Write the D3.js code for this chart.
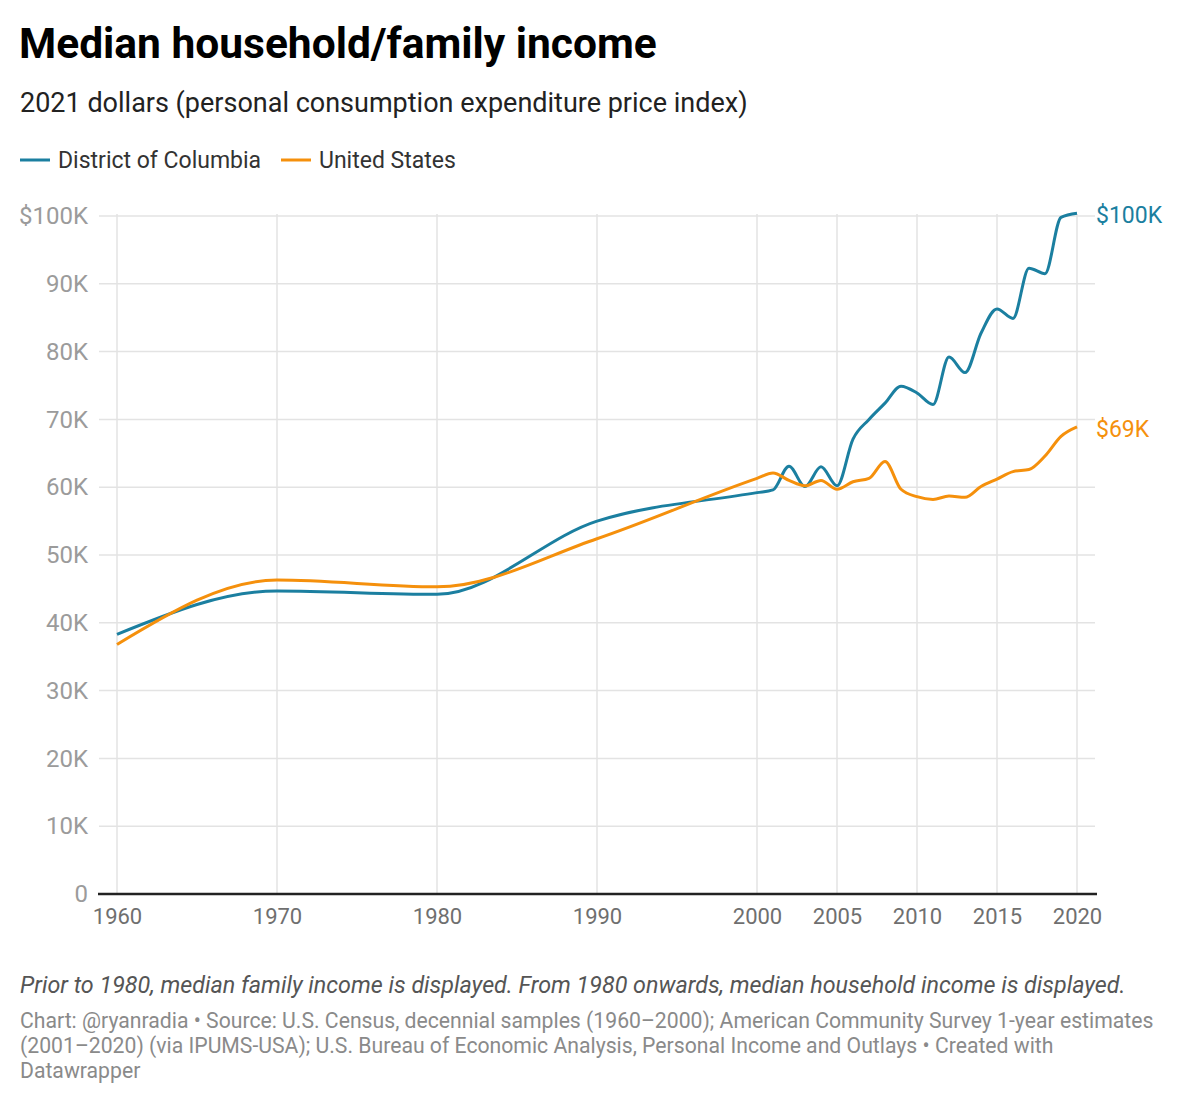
<!DOCTYPE html>
<html>
<head>
<meta charset="utf-8">
<script src="https://cdn.jsdelivr.net/npm/d3@7"></script>
<style>
  body { margin: 0; background: #fff; font-family: Roboto, "Noto Sans", sans-serif; }
  svg text { font-family: Roboto, "Noto Sans", sans-serif; }
</style>
</head>
<body>
<div id="chart"></div>
<script>
// values in thousands of 2021 dollars
var years = [1960, 1970, 1980, 1990, 2000, 2001, 2002, 2003, 2004, 2005, 2006, 2007, 2008,
             2009, 2010, 2011, 2012, 2013, 2014, 2015, 2016, 2017, 2018, 2019, 2020];
var dcIncome = [38.3, 44.7, 44.2, 55.0, 59.2, 59.6, 63.1, 60.1, 63.0, 60.2, 67.1, 70.0, 72.4,
                74.9, 73.9, 72.2, 79.2, 76.9, 82.7, 86.3, 84.9, 92.3, 91.5, 99.8, 100.4];
var usIncome = [36.8, 46.3, 45.3, 52.4, 61.3, 62.1, 61.0, 60.2, 61.0, 59.7, 60.8, 61.3, 63.8,
                59.7, 58.6, 58.2, 58.7, 58.5, 60.1, 61.2, 62.3, 62.6, 64.6, 67.5, 68.9];
var seriesNames = ["District of Columbia", "United States"];
var seriesColors = ["#1b7fa0", "#f5900c"];
var xTicks = [1960, 1970, 1980, 1990, 2000, 2005, 2010, 2015, 2020];
var yTicks = [0, 10, 20, 30, 40, 50, 60, 70, 80, 90, 100];

var w = 1200, h = 1103;

var svg = d3.select("#chart").append("svg")
  .attr("width", w)
  .attr("height", h);

var x = d3.scaleLinear().domain([1960, 2020]).range([117, 1077]);
var y = d3.scaleLinear().domain([0, 100]).range([894, 216]);

// header
svg.append("text")
  .attr("x", 19).attr("y", 58)
  .style("font-size", "42.5px").style("font-weight", "bold").attr("fill", "#000")
  .text("Median household/family income");

svg.append("text")
  .attr("x", 20).attr("y", 112)
  .style("font-size", "27px").attr("fill", "#222")
  .text("2021 dollars (personal consumption expenditure price index)");

// legend
var legendX = [20, 281];
seriesNames.forEach(function (name, i) {
  var g = svg.append("g").attr("transform", `translate(${legendX[i]},160)`);
  g.append("line")
    .attr("x1", 0).attr("x2", 30)
    .attr("stroke", seriesColors[i]).attr("stroke-width", 3);
  g.append("text")
    .attr("x", 38).attr("y", 8)
    .style("font-size", "23px").attr("fill", "#333")
    .text(name);
});

// gridlines
var grid = svg.append("g");
grid.selectAll("line.h")
  .data(yTicks.filter(d => d > 0))
  .enter().append("line")
  .attr("class", "h")
  .attr("x1", 99).attr("x2", 1095)
  .attr("y1", d => y(d)).attr("y2", d => y(d))
  .attr("stroke", "#e3e3e3").attr("stroke-width", 1.5);

grid.selectAll("line.v")
  .data(xTicks)
  .enter().append("line")
  .attr("class", "v")
  .attr("x1", d => x(d)).attr("x2", d => x(d))
  .attr("y1", 214).attr("y2", 894)
  .attr("stroke", "#e3e3e3").attr("stroke-width", 1.5);

// y axis labels
var yAxis = d3.axisLeft(y)
  .tickValues(yTicks)
  .tickSize(0)
  .tickPadding(0)
  .tickFormat(d => d === 0 ? "0" : (d === 100 ? "$" : "") + d + "K");

svg.append("g")
  .attr("transform", "translate(88,0)")
  .call(yAxis)
  .call(g => g.select(".domain").remove())
  .selectAll("text")
  .style("font-size", "24px")
  .attr("fill", "#9b9b9b");

// x axis labels
var xAxis = d3.axisBottom(x)
  .tickValues(xTicks)
  .tickSize(0)
  .tickPadding(14)
  .tickFormat(d3.format("d"));

svg.append("g")
  .attr("transform", "translate(0,894)")
  .call(xAxis)
  .call(g => g.select(".domain").remove())
  .selectAll("text")
  .style("font-size", "22px")
  .attr("fill", "#6f6f6f");

// baseline
svg.append("line")
  .attr("x1", 98).attr("x2", 1097)
  .attr("y1", y(0)).attr("y2", y(0))
  .attr("stroke", "#222").attr("stroke-width", 2.5);

// lines
var line = d3.line()
  .x((d, i) => x(years[i]))
  .y(d => y(d))
  .curve(d3.curveMonotoneX);

[dcIncome, usIncome].forEach(function (vals, i) {
  svg.append("path")
    .datum(vals)
    .attr("fill", "none")
    .attr("stroke", seriesColors[i])
    .attr("stroke-width", 3)
    .attr("stroke-linejoin", "round")
    .attr("d", line);

  var last = vals[vals.length - 1];
  svg.append("text")
    .attr("x", x(years[years.length - 1]) + 19)
    .attr("y", y(last) + 10)
    .style("font-size", "23px")
    .attr("fill", seriesColors[i])
    .text("$" + Math.round(last) + "K");
});

// notes
svg.append("text")
  .attr("x", 20).attr("y", 993)
  .style("font-size", "23.3px").style("font-style", "italic").attr("fill", "#555")
  .text("Prior to 1980, median family income is displayed. From 1980 onwards, median household income is displayed.");

var source = [
  "Chart: @ryanradia \u2022 Source: U.S. Census, decennial samples (1960\u20132000); American Community Survey 1-year estimates",
  "(2001\u20132020) (via IPUMS-USA); U.S. Bureau of Economic Analysis, Personal Income and Outlays \u2022 Created with",
  "Datawrapper"
];
svg.selectAll("text.src")
  .data(source)
  .enter().append("text")
  .attr("class", "src")
  .attr("x", 20)
  .attr("y", (d, i) => 1028 + i * 25)
  .style("font-size", "21.2px")
  .attr("fill", "#8a8a8a")
  .text(d => d);
</script>
</body>
</html>
